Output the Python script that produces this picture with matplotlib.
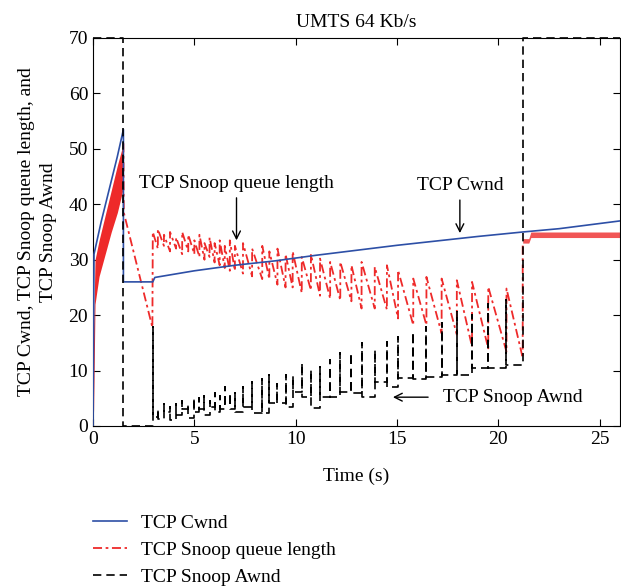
import numpy as np
import matplotlib
matplotlib.use('Agg')
import matplotlib.pyplot as plt

plt.rcParams['font.family'] = ['Liberation Serif', 'DejaVu Serif']
plt.rcParams['font.size'] = 14

# TCP Cwnd (blue)
cwnd_t = [0, 0.05, 0.4, 0.8, 1.2, 1.5, 1.5, 2.95, 3.05, 5, 7, 9, 11, 13, 15, 17, 19, 21.2, 23, 26]
cwnd_v = [0, 31, 36.8, 42.7, 48.6, 53.5, 26, 26, 26.8, 28, 29, 29.8, 30.8, 31.7, 32.6, 33.4, 34.2, 35, 35.6, 37]

# dense start-up part of the queue (drawn as a band)
band_t = [0, 0.03, 0.1, 0.3, 0.6, 0.9, 1.2, 1.5]
band_lo = [0, 3, 22, 27, 31, 35, 38.5, 43]
band_hi = [0, 18, 30, 33.5, 38, 42.5, 47, 51]

# queue drain after the first loss
drain_t = [1.5, 1.52, 2.93]
drain_v = [51, 38.5, 17.8]

# sawtooth cycles shared by queue and Awnd
cyc_t = [2.95, 3.2, 3.5, 3.8, 4.1, 4.4, 4.7, 5.0, 5.25, 5.5, 5.75, 6.0, 6.25, 6.5, 6.75,
         7.0, 7.4, 7.85, 8.35, 8.7, 9.1, 9.5, 9.85, 10.3, 10.75, 11.2, 11.7, 12.2, 12.75,
         13.25, 13.9, 14.5, 15.05, 15.8, 16.45, 17.2, 17.95, 18.7, 19.5, 20.4, 21.2]
red_top = [35, 35.5, 34.5, 35, 34, 35, 34.5, 33.5, 34.5, 33, 34, 33, 33.5, 32.5, 33.5, 32.5,
           33, 32, 32.5, 31.5, 32, 31, 31.5, 30.5, 31, 30.2, 29.6, 29.6, 29.0, 29.6, 28.7,
           29.0, 28.1, 26.6, 26.9, 26.6, 26.3, 26.0, 25.1, 24.8]
red_bot = [32, 32.5, 31.5, 32, 31, 31.5, 31, 30.5, 30, 30.5, 29.5, 29, 28.5, 28, 28, 27.5,
           27, 26.5, 26.5, 25.5, 25, 25, 24, 24.5, 23.5, 23, 22.7, 22.5, 21.2, 21.2, 21,
           19.4, 18.2, 18.2, 16.7, 16.5, 14.3, 14, 13.4, 12.3]
awnd_peak = [17.9, 3, 4, 3.5, 4, 4.5, 4, 5, 5, 5.5, 4.5, 6, 5.5, 7, 6, 6, 7, 8, 8.5, 9.2,
             7.5, 9.2, 9, 11.3, 10.1, 10.7, 11.9, 13.1, 13.1, 14.9, 13.7, 15.2, 16.1, 17,
             17.9, 18.6, 20.6, 20, 22.1, 22.7]
awnd_floor = [1.6, 1.2, 2.5, 1, 2, 3, 1.5, 2.5, 3, 2, 3.5, 2.5, 3, 4, 3, 2.5, 3.5, 2.3, 2.3,
              4.1, 4.1, 3.5, 6.2, 5.3, 3.2, 5.3, 5.3, 6.2, 6.0, 5.3, 8.0, 7.1, 8.6, 8.4,
              8.9, 9.2, 9.2, 10.4, 10.4, 11.0]

# queue after the handover (narrow oscillation)
tail_t = [21.2, 21.5, 21.6, 26]
tail_lo = [33, 33, 34, 34]
tail_hi = [33.8, 33.8, 35, 35]

# Awnd before and after the sawtooth part
awnd_head_t = [0, 1.5, 1.5, 2.95]
awnd_head_v = [70, 70, 0, 0]
awnd_end_t = [21.2, 26]
awnd_end_v = [70, 70]

blue = '#2d4fa6'
red = '#ee2a2a'

# build the queue and Awnd polylines from the cycle tables
q_t = list(drain_t)
q_v = list(drain_v)
a_t = list(awnd_head_t)
a_v = list(awnd_head_v)
for k in range(len(red_top)):
    q_t += [cyc_t[k], cyc_t[k + 1]]
    q_v += [red_top[k], red_bot[k]]
    a_t += [cyc_t[k], cyc_t[k], cyc_t[k + 1]]
    a_v += [awnd_peak[k], awnd_floor[k], awnd_floor[k]]
q_t += [tail_t[0]]
q_v += [tail_lo[0]]
a_t += awnd_end_t
a_v += awnd_end_v

fig = plt.figure(figsize=(6.21, 5.87), dpi=100)
ax = fig.add_axes([93 / 621, 1 - 426 / 587, 527 / 621, 388 / 587])

ax.plot(cwnd_t, cwnd_v, color=blue, lw=1.2, label='TCP Cwnd', zorder=3)
ax.fill_between(band_t, band_lo, band_hi, color=red, lw=0, zorder=2)
ax.plot(q_t, q_v, color=red, lw=1.3, dashes=(5, 2, 1.5, 2), label='TCP Snoop queue length', zorder=2)
ax.fill_between(tail_t, tail_lo, tail_hi, color=red, lw=0, alpha=0.8, zorder=2)
ax.plot(a_t, a_v, color='black', lw=1.2, dashes=(5, 3), label='TCP Snoop Awnd', zorder=4, clip_on=False)

ax.set_xlim(0, 26)
ax.set_ylim(0, 70)
ax.set_xticks([0, 5, 10, 15, 20, 25])
ax.set_yticks(range(0, 71, 10))
ax.tick_params(direction='in', top=True, right=True, length=5, width=0.8)
ax.set_title('UMTS 64 Kb/s', fontsize=14, pad=8)
ax.set_xlabel('Time (s)', labelpad=14)
ax.set_ylabel('TCP Cwnd, TCP Snoop queue length, and\nTCP Snoop Awnd', labelpad=8, linespacing=1.4)

arrow = dict(arrowstyle='->', color='black', lw=1)
ax.annotate('TCP Snoop queue length', xy=(7.08, 33), xytext=(7.08, 43.7),
            ha='center', va='center', arrowprops=arrow)
ax.annotate('TCP Cwnd', xy=(18.1, 34.3), xytext=(18.1, 43.3),
            ha='center', va='center', arrowprops=arrow)
ax.annotate('', xy=(14.66, 5.2), xytext=(16.67, 5.2), arrowprops=arrow)
ax.text(17.25, 5.2, 'TCP Snoop Awnd', ha='left', va='center')

fig.legend(loc='upper left', bbox_to_anchor=(93 / 621, 1 - 514 / 587), frameon=False,
           handlelength=1.75, handletextpad=0.72, labelspacing=0.5, borderpad=0, borderaxespad=0)

fig.savefig('out.png', dpi=100)
